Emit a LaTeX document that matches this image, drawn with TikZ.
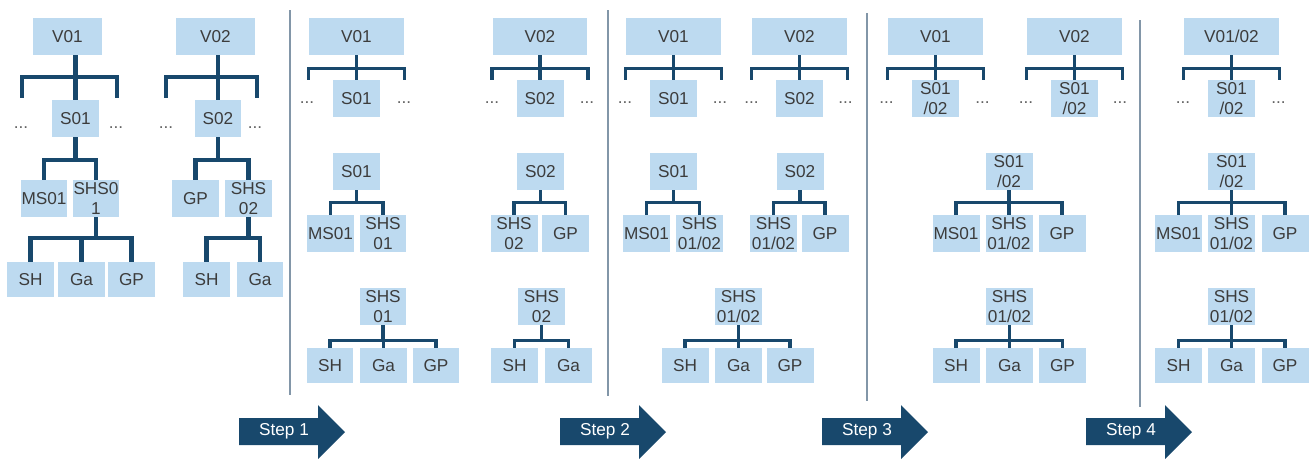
\documentclass[tikz,border=0pt]{standalone}
\usepackage{fontspec}
\setmainfont{Liberation Sans}
\usetikzlibrary{calc}
\definecolor{boxblue}{RGB}{189,218,240}
\definecolor{navy}{RGB}{24,72,108}
\definecolor{textgrey}{RGB}{60,60,60}
\definecolor{sepgrey}{RGB}{130,150,168}

\tikzset{
  box/.style={fill=boxblue, text=textgrey, inner sep=0.5pt, align=center,
    minimum width=0.94cm, minimum height=0.74cm,
    font=\fontsize{9.8}{11.5}\selectfont},
  wbox/.style={box, minimum width=1.9cm},
  leaf/.style={box, minimum height=0.70cm},
  conn/.style={navy, line width=1.9pt},
  sepline/.style={sepgrey, line width=0.8pt},
  dots/.style={text=textgrey!80, inner sep=0, font=\fontsize{9.8}{11.5}\selectfont},
  steptext/.style={text=white, inner sep=0, font=\fontsize{9.8}{11.5}\selectfont},
}

% fork: start point, drop to bar, children
\newcommand\fork[3]{\foreach \kid in {#3}{\draw[conn] #1 -- ++(0,#2) -| (\kid);}}

\begin{document}
\begin{tikzpicture}[x=0.02cm, y=-0.02cm]
    \useasboundingbox (0,0) rectangle (1309,458);

    % Separators
    \draw[sepline] (290,10) -- (290,395);
    \draw[sepline] (608,10) -- (608,396);
    \draw[sepline] (867,13) -- (867,401);
    \draw[sepline] (1140,20) -- (1140,407);

    % Original structure
    \begin{scope}[conn/.append style={line width=2.3pt}]
    \node[box, minimum width=1.38cm] (v01a) at (67.5,36.5) {V01};
    \node[box, minimum width=1.58cm] (v02a) at (215.5,36.5) {V02};
    \node[box] (s01a) at (75.5,118.5) {S01};
    \node[box] (s02a) at (218,118.5) {S02};
    \coordinate (v01aL) at (22,98);  \coordinate (v01aR) at (117,98);
    \coordinate (v02aL) at (166,98); \coordinate (v02aR) at (257,98);
    \node[dots] (d1a) at (21,128) {...};  \node[dots] (d2a) at (116,128) {...};
    \node[dots] (d3a) at (166,128) {...}; \node[dots] (d4a) at (255,128) {...};
    \node[box] (ms01a) at (44,198.5) {MS01};
    \node[box] (shs01a) at (96,198.5) {SHS0\\1};
    \node[box] (gp02a) at (195.5,198.5) {GP};
    \node[box] (shs02a) at (248.5,198.5) {SHS\\02};
    \node[leaf] (sh01a) at (30.5,279.5) {SH};
    \node[leaf] (ga01a) at (81.5,279.5) {Ga};
    \node[leaf] (gp01a) at (131.5,279.5) {GP};
    \node[leaf] (sh02a) at (206.5,279.5) {SH};
    \node[leaf] (ga02a) at (260,279.5) {Ga};
    \fork{(s01a.north |- v01a.south)}{22}{v01aL,s01a,v01aR}
    \fork{(s02a.north |- v02a.south)}{22}{v02aL,s02a,v02aR}
    \fork{(s01a.south)}{23}{ms01a,shs01a}
    \fork{(s02a.south)}{23}{gp02a,shs02a}
    \fork{(shs01a.south)}{21}{sh01a,ga01a,gp01a}
    \fork{(shs02a.south)}{21}{sh02a,ga02a}
    \end{scope}

    % After step 1
    \node[wbox] (v01b) at (356.5,36.5) {V01};
    \node[box] (s01b) at (356.5,98.5) {S01};
    \coordinate (v01bL) at (308.5,80); \coordinate (v01bR) at (404.5,80);
    \node[dots] (d1b) at (307,103) {...}; \node[dots] (d2b) at (404,103) {...};
    \node[wbox] (v02b) at (540,36.5) {V02};
    \node[box] (s02b) at (540,98.5) {S02};
    \coordinate (v02bL) at (492,80); \coordinate (v02bR) at (588,80);
    \node[dots] (d3b) at (492,103) {...}; \node[dots] (d4b) at (587,103) {...};
    \fork{(v01b.south)}{13}{v01bL,s01b,v01bR}
    \fork{(v02b.south)}{13}{v02bL,s02b,v02bR}

    \node[box] (s01bm) at (356.5,171.5) {S01};
    \node[box] (ms01bm) at (330.5,233.5) {MS01};
    \node[box] (shs01bm) at (383,233.5) {SHS\\01};
    \node[box] (s02bm) at (540.5,171.5) {S02};
    \node[box] (shs02bm) at (514,233.5) {SHS\\02};
    \node[box] (gp02bm) at (565.5,233.5) {GP};
    \fork{(s01bm.south)}{12}{ms01bm,shs01bm}
    \fork{(s02bm.south)}{12}{shs02bm,gp02bm}

    \node[box] (shs01bl) at (383,306.5) {SHS\\01};
    \node[leaf] (sh01bl) at (330,365.5) {SH};
    \node[leaf] (ga01bl) at (383.5,365.5) {Ga};
    \node[leaf] (gp01bl) at (436,365.5) {GP};
    \node[box] (shs02bl) at (541.5,306.5) {SHS\\02};
    \node[leaf] (sh02bl) at (514.5,365.5) {SH};
    \node[leaf] (ga02bl) at (568.5,365.5) {Ga};
    \fork{(shs01bl.south)}{15}{sh01bl,ga01bl,gp01bl}
    \fork{(shs02bl.south)}{15}{sh02bl,ga02bl}

    % After step 2
    \node[wbox] (v01c) at (673.5,36.5) {V01};
    \node[box] (s01c) at (673.5,98.5) {S01};
    \coordinate (v01cL) at (625.5,80); \coordinate (v01cR) at (721.5,80);
    \node[dots] (d1c) at (625,103) {...}; \node[dots] (d2c) at (720,103) {...};
    \node[wbox] (v02c) at (799.5,36.5) {V02};
    \node[box] (s02c) at (799.5,98.5) {S02};
    \coordinate (v02cL) at (751.5,80); \coordinate (v02cR) at (847.5,80);
    \node[dots] (d3c) at (751.5,103) {...}; \node[dots] (d4c) at (845.5,103) {...};
    \fork{(v01c.south)}{13}{v01cL,s01c,v01cR}
    \fork{(v02c.south)}{13}{v02cL,s02c,v02cR}

    \node[box] (s01cm) at (673.5,171.5) {S01};
    \node[box] (ms01cm) at (646.5,233.5) {MS01};
    \node[box] (shs01cm) at (699.5,233.5) {SHS\\01/02};
    \node[box] (s02cm) at (800,171.5) {S02};
    \node[box] (shs02cm) at (773.5,233.5) {SHS\\01/02};
    \node[box] (gp02cm) at (825,233.5) {GP};
    \fork{(s01cm.south)}{12}{ms01cm,shs01cm}
    \fork{(s02cm.south)}{12}{shs02cm,gp02cm}

    \node[box] (shscl) at (738.5,306.5) {SHS\\01/02};
    \node[leaf] (shcl) at (685,365.5) {SH};
    \node[leaf] (gacl) at (738.5,365.5) {Ga};
    \node[leaf] (gpcl) at (790,365.5) {GP};
    \fork{(shscl.south)}{15}{shcl,gacl,gpcl}

    % After step 3
    \node[wbox] (v01d) at (935.5,36.5) {V01};
    \node[box] (s01d) at (935.5,98.5) {S01\\/02};
    \coordinate (v01dL) at (887.5,80); \coordinate (v01dR) at (983.5,80);
    \node[dots] (d1d) at (886.5,103) {...}; \node[dots] (d2d) at (982.5,103) {...};
    \node[wbox] (v02d) at (1074.5,36.5) {V02};
    \node[box] (s02d) at (1074.5,98.5) {S01\\/02};
    \coordinate (v02dL) at (1026.5,80); \coordinate (v02dR) at (1122.5,80);
    \node[dots] (d3d) at (1026,103) {...}; \node[dots] (d4d) at (1120,103) {...};
    \fork{(v01d.south)}{13}{v01dL,s01d,v01dR}
    \fork{(v02d.south)}{13}{v02dL,s02d,v02dR}

    \node[box] (sdm) at (1009,171.5) {S01\\/02};
    \node[box] (ms01dm) at (956,233.5) {MS01};
    \node[box] (shsdm) at (1009,233.5) {SHS\\01/02};
    \node[box] (gpdm) at (1062,233.5) {GP};
    \fork{(sdm.south)}{12}{ms01dm,shsdm,gpdm}

    \node[box] (shsdl) at (1009.5,306.5) {SHS\\01/02};
    \node[leaf] (shdl) at (956,365.5) {SH};
    \node[leaf] (gadl) at (1009.5,365.5) {Ga};
    \node[leaf] (gpdl) at (1062.5,365.5) {GP};
    \fork{(shsdl.south)}{15}{shdl,gadl,gpdl}

    % After step 4
    \node[wbox] (ve) at (1231.5,36.5) {V01/02};
    \node[box] (se) at (1231.5,98.5) {S01\\/02};
    \coordinate (veL) at (1183.5,80); \coordinate (veR) at (1279.5,80);
    \node[dots] (d1e) at (1183,103) {...}; \node[dots] (d2e) at (1278.5,103) {...};
    \fork{(ve.south)}{13}{veL,se,veR}

    \node[box] (sem) at (1231.5,171.5) {S01\\/02};
    \node[box] (ms01em) at (1178.5,233.5) {MS01};
    \node[box] (shsem) at (1231.5,233.5) {SHS\\01/02};
    \node[box] (gpem) at (1285,233.5) {GP};
    \fork{(sem.south)}{12}{ms01em,shsem,gpem}

    \node[box] (shsel) at (1231.5,306.5) {SHS\\01/02};
    \node[leaf] (shel) at (1178.5,365.5) {SH};
    \node[leaf] (gael) at (1231.5,365.5) {Ga};
    \node[leaf] (gpel) at (1285,365.5) {GP};
    \fork{(shsel.south)}{15}{shel,gael,gpel}

    % Step arrows
    \foreach \x/\n in {239/1,560/2,822/3,1086/4}{
      \fill[navy] (\x,418) -- ++(79,0) -- ++(0,-13) -- ++(27,27)
        -- ++(-27,27) -- ++(0,-14) -- ++(-79,0) -- cycle;
      \node[steptext] (step\n) at (\x+45,431.5) {Step \n};
    }
\end{tikzpicture}
\end{document}
